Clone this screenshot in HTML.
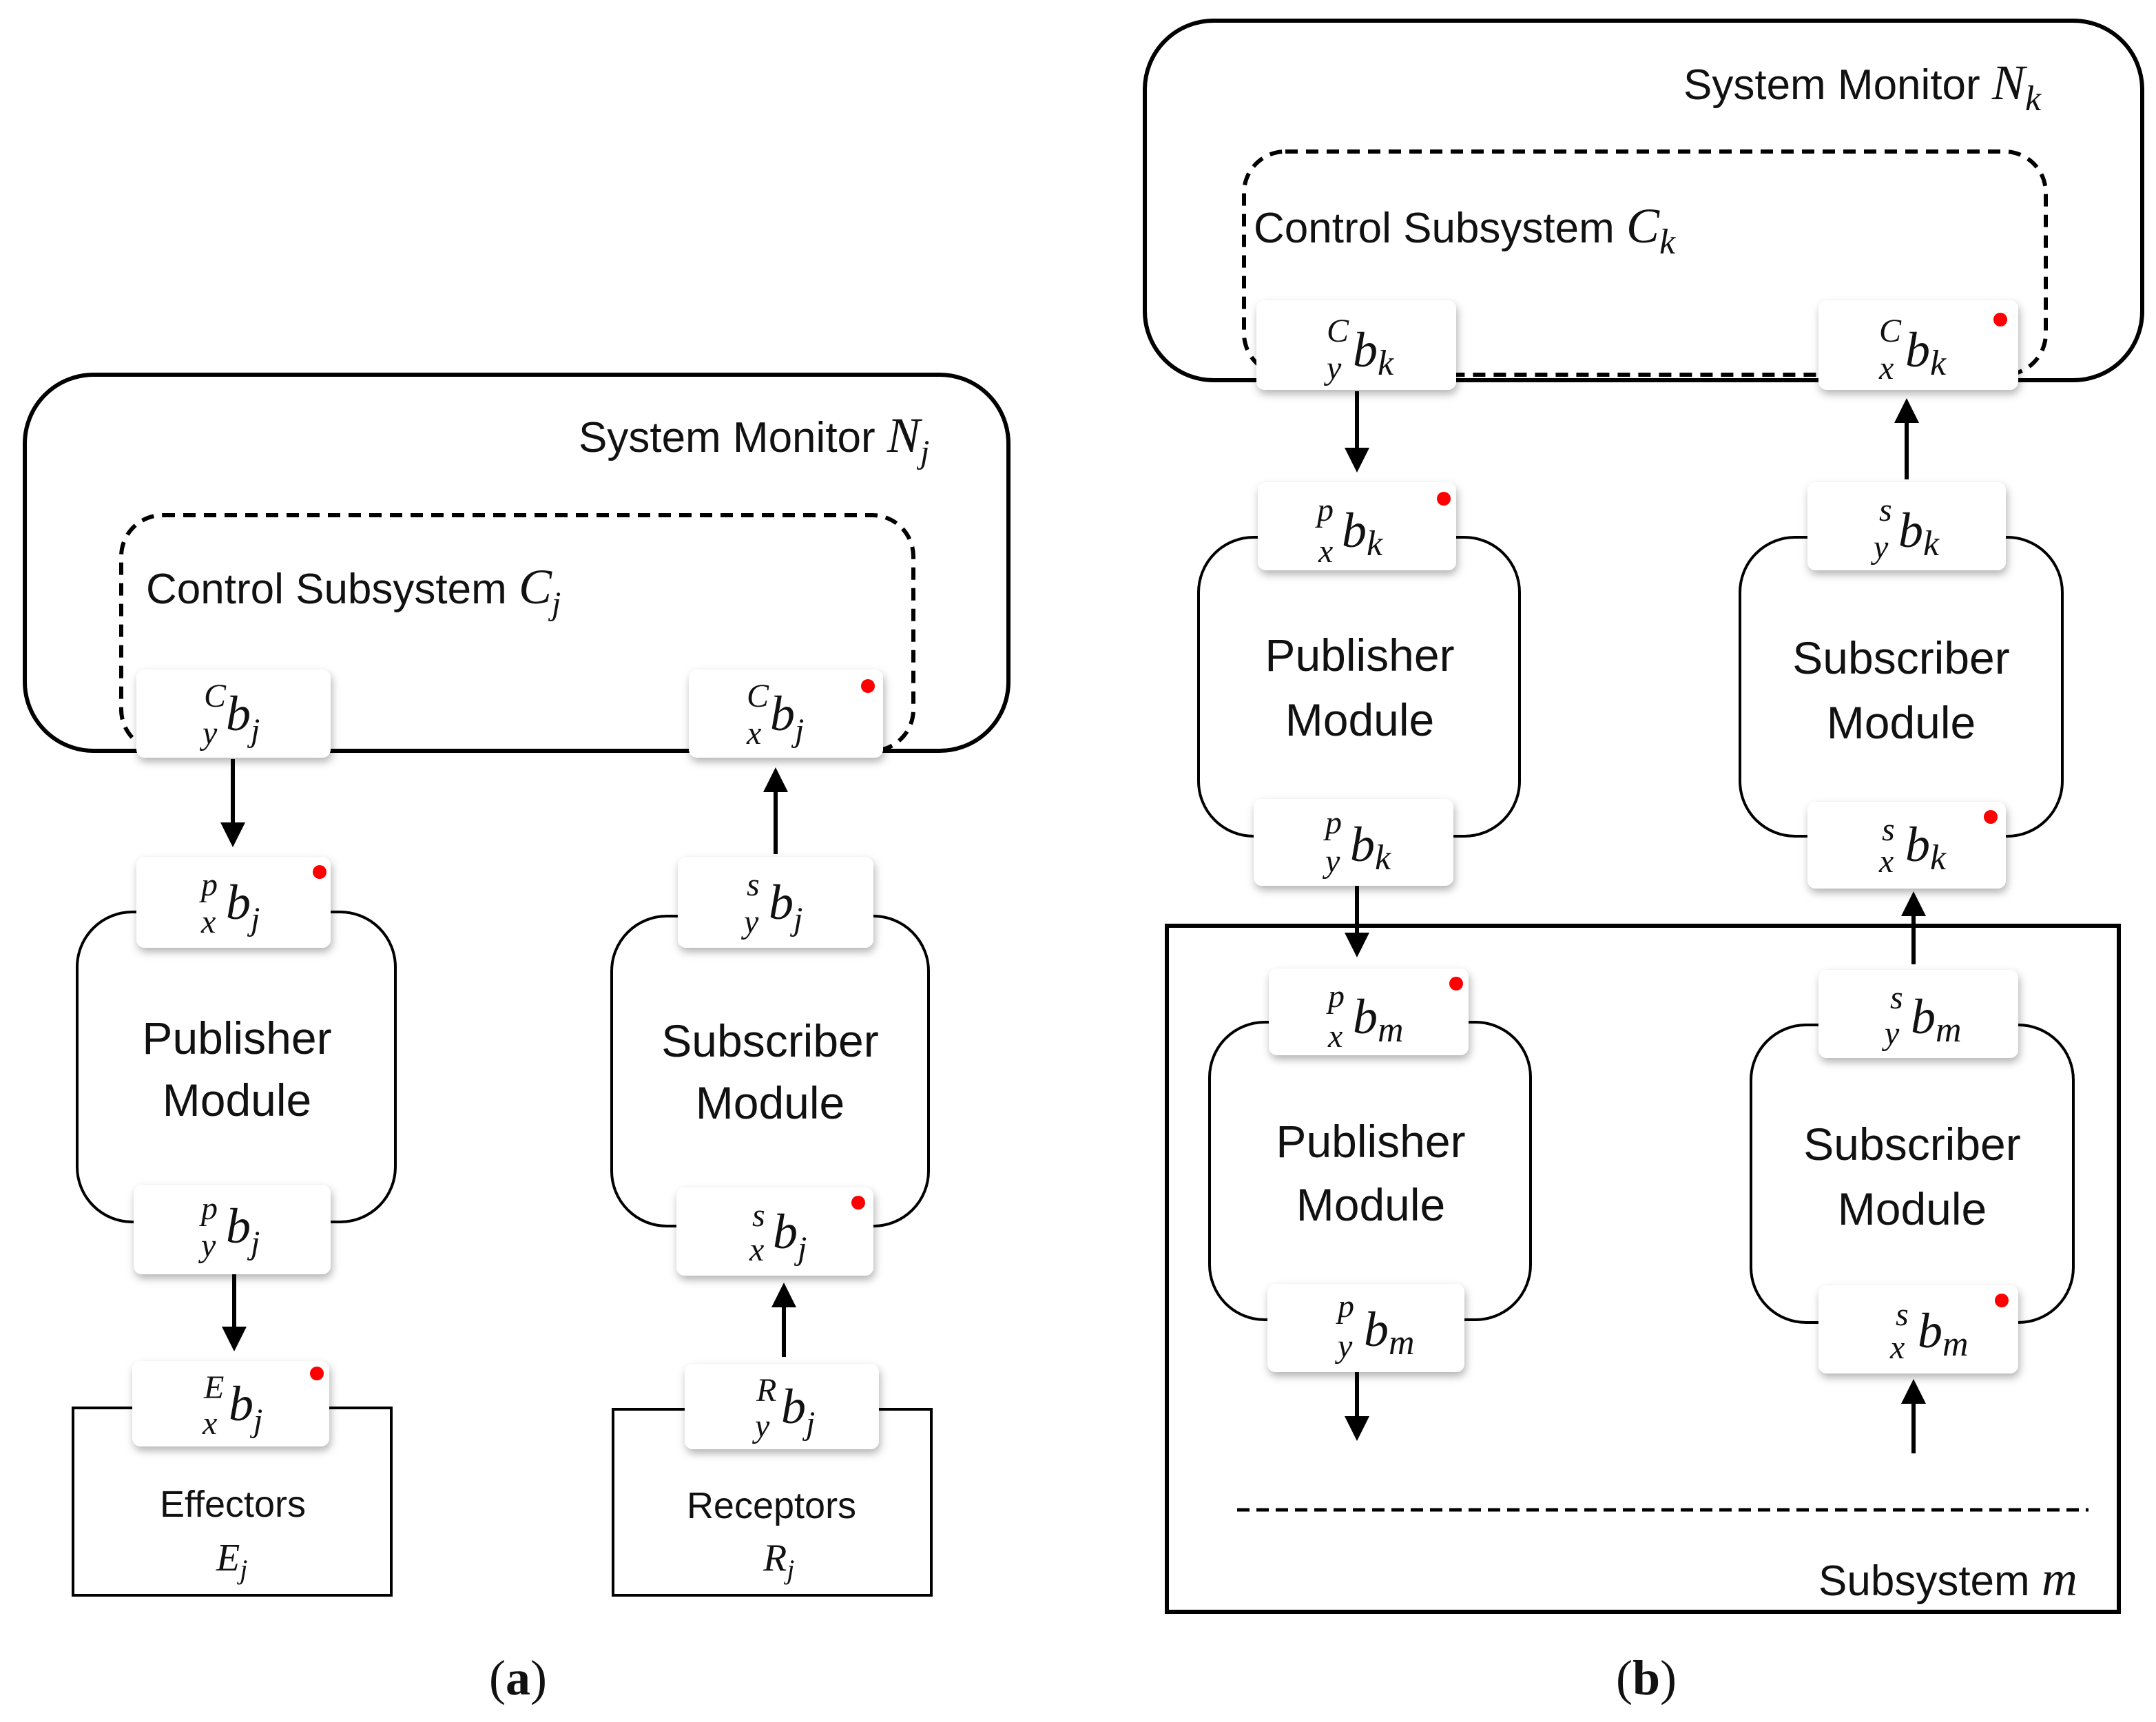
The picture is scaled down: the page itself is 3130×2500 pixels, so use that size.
<!DOCTYPE html>
<html><head><meta charset="utf-8"><style>
html,body{margin:0;padding:0;background:#fff}
svg{display:block}
text{font-family:"Liberation Sans",sans-serif;fill:#111}
.m,.m text,.m tspan,text.m{font-family:"Liberation Serif",serif;font-style:italic}
</style></head><body>
<svg width="3130" height="2500" viewBox="0 0 1565 1250" xmlns="http://www.w3.org/2000/svg">
<defs>
<filter id="sh" x="-20%" y="-20%" width="140%" height="150%"><feDropShadow dx="1" dy="3" stdDeviation="3" flood-color="#000" flood-opacity="0.3"/></filter>
<marker id="ah" markerWidth="6" markerHeight="6" refX="5" refY="3" orient="auto" markerUnits="strokeWidth"><path d="M0,0 L6,3 L0,6 z" fill="#000"/></marker>
</defs>
<g fill="none" stroke="#000">
<rect x="18" y="272" width="714" height="273" rx="50" stroke-width="3"/>
<rect x="88" y="374" width="575" height="171" rx="30" stroke-width="3" stroke-dasharray="9,6"/>
<rect x="56" y="662" width="231" height="225" rx="40" stroke-width="2"/>
<rect x="444" y="665" width="230" height="225" rx="40" stroke-width="2"/>
<rect x="53" y="1022" width="231" height="136" stroke-width="2"/>
<rect x="445" y="1023" width="231" height="135" stroke-width="2"/>
<rect x="831" y="15" width="724" height="261" rx="50" stroke-width="3"/>
<rect x="903" y="110" width="582" height="162" rx="30" stroke-width="3" stroke-dasharray="9,6"/>
<rect x="870" y="390" width="233" height="217" rx="40" stroke-width="2"/>
<rect x="1263" y="390" width="234" height="217" rx="40" stroke-width="2"/>
<rect x="847" y="672" width="691" height="498" stroke-width="3"/>
<rect x="878" y="742" width="233" height="216" rx="40" stroke-width="2"/>
<rect x="1271" y="744" width="234" height="216" rx="40" stroke-width="2"/>
<line x1="898" y1="1096" x2="1516" y2="1096" stroke-width="2.5" stroke-dasharray="9,5"/>
<g stroke-width="3" marker-end="url(#ah)">
<line x1="169" y1="551" x2="169" y2="612"/>
<line x1="170" y1="925" x2="170" y2="978"/>
<line x1="563" y1="620" x2="563" y2="560"/>
<line x1="569" y1="985" x2="569" y2="934"/>
<line x1="985" y1="284" x2="985" y2="340"/>
<line x1="985" y1="643" x2="985" y2="692"/>
<line x1="1384" y1="348" x2="1384" y2="292"/>
<line x1="1389" y1="700" x2="1389" y2="650"/>
<line x1="985" y1="996" x2="985" y2="1043"/>
<line x1="1389" y1="1055" x2="1389" y2="1004"/>
</g>
</g>
<g fill="#fff" filter="url(#sh)">
<rect x="99" y="486" width="141" height="64" rx="6"/>
<rect x="500" y="486" width="141" height="64" rx="6"/>
<rect x="99" y="622" width="141" height="66" rx="6"/>
<rect x="97" y="860" width="143" height="65" rx="6"/>
<rect x="96" y="988" width="143" height="62" rx="6"/>
<rect x="492" y="622" width="142" height="66" rx="6"/>
<rect x="491" y="862" width="143" height="64" rx="6"/>
<rect x="497" y="990" width="141" height="62" rx="6"/>
<rect x="912" y="218" width="145" height="65" rx="6"/>
<rect x="1320" y="218" width="145" height="65" rx="6"/>
<rect x="913" y="350" width="144" height="64" rx="6"/>
<rect x="910" y="580" width="145" height="63" rx="6"/>
<rect x="1312" y="350" width="144" height="64" rx="6"/>
<rect x="1312" y="582" width="144" height="63" rx="6"/>
<rect x="921" y="703" width="145" height="63" rx="6"/>
<rect x="920" y="932" width="143" height="64" rx="6"/>
<rect x="1320" y="704" width="145" height="64" rx="6"/>
<rect x="1320" y="933" width="145" height="64" rx="6"/>
</g>
<g fill="#f00">
<circle cx="630" cy="498" r="5"/><circle cx="232" cy="633" r="5"/><circle cx="623" cy="873" r="5"/><circle cx="230" cy="997" r="5"/>
<circle cx="1452" cy="232" r="5"/><circle cx="1048" cy="362" r="5"/><circle cx="1445" cy="593" r="5"/><circle cx="1057" cy="714" r="5"/><circle cx="1453" cy="944" r="5"/>
</g>
<g class="m">
<g font-size="24">
<text x="148" y="513">C</text><text x="147" y="540">y</text>
<text x="542" y="513">C</text><text x="542" y="540">x</text>
<text x="146" y="650">p</text><text x="146" y="677">x</text>
<text x="146" y="885">p</text><text x="146" y="912">y</text>
<text x="148" y="1015">E</text><text x="147" y="1041">x</text>
<text x="542" y="650">s</text><text x="540" y="677">y</text>
<text x="546" y="890">s</text><text x="544" y="915">x</text>
<text x="549" y="1017">R</text><text x="548" y="1043">y</text>
<text x="963" y="248">C</text><text x="963" y="275">y</text>
<text x="1364" y="248">C</text><text x="1364" y="275">x</text>
<text x="956" y="378">p</text><text x="957" y="408">x</text>
<text x="962" y="605">p</text><text x="962" y="633">y</text>
<text x="1364" y="378">s</text><text x="1360" y="405">y</text>
<text x="1366" y="610">s</text><text x="1364" y="633">x</text>
<text x="964" y="731">p</text><text x="964" y="760">x</text>
<text x="971" y="956">p</text><text x="971" y="985">y</text>
<text x="1372" y="732">s</text><text x="1368" y="758">y</text>
<text x="1376" y="962">s</text><text x="1372" y="986">x</text>
</g>
<g font-size="36">
<text x="164" y="530">b<tspan font-size="24" dy="8">j</tspan></text>
<text x="559" y="530">b<tspan font-size="24" dy="8">j</tspan></text>
<text x="164" y="667">b<tspan font-size="24" dy="8">j</tspan></text>
<text x="164" y="902">b<tspan font-size="24" dy="8">j</tspan></text>
<text x="166" y="1031">b<tspan font-size="24" dy="8">j</tspan></text>
<text x="558" y="667">b<tspan font-size="24" dy="8">j</tspan></text>
<text x="561" y="906">b<tspan font-size="24" dy="8">j</tspan></text>
<text x="567" y="1033">b<tspan font-size="24" dy="8">j</tspan></text>
<text x="982" y="266">b<tspan font-size="26" dy="6">k</tspan></text>
<text x="1383" y="266">b<tspan font-size="26" dy="6">k</tspan></text>
<text x="974" y="397">b<tspan font-size="26" dy="6">k</tspan></text>
<text x="980" y="625">b<tspan font-size="26" dy="6">k</tspan></text>
<text x="1378" y="397">b<tspan font-size="26" dy="6">k</tspan></text>
<text x="1383" y="625">b<tspan font-size="26" dy="6">k</tspan></text>
<text x="982" y="750">b<tspan font-size="26" dy="6">m</tspan></text>
<text x="990" y="977">b<tspan font-size="26" dy="6">m</tspan></text>
<text x="1387" y="750">b<tspan font-size="26" dy="6">m</tspan></text>
<text x="1392" y="978">b<tspan font-size="26" dy="6">m</tspan></text>
</g>
</g>
<g font-size="31">
<text x="420" y="328">System Monitor <tspan class="m" font-size="36">N</tspan><tspan class="m" font-size="24" dy="8">j</tspan></text>
<text x="106" y="438">Control Subsystem <tspan class="m" font-size="36">C</tspan><tspan class="m" font-size="24" dy="8">j</tspan></text>
<text x="1222" y="72">System Monitor <tspan class="m" font-size="36">N</tspan><tspan class="m" font-size="26" dy="8">k</tspan></text>
<text x="910" y="176">Control Subsystem <tspan class="m" font-size="36">C</tspan><tspan class="m" font-size="26" dy="8">k</tspan></text>
</g>
<g font-size="33" text-anchor="middle">
<text x="172" y="765">Publisher</text><text x="172" y="810">Module</text>
<text x="559" y="767">Subscriber</text><text x="559" y="812">Module</text>
<text x="987" y="487">Publisher</text><text x="987" y="534">Module</text>
<text x="1380" y="489">Subscriber</text><text x="1380" y="536">Module</text>
<text x="995" y="840">Publisher</text><text x="995" y="886">Module</text>
<text x="1388" y="842">Subscriber</text><text x="1388" y="889">Module</text>
</g>
<g font-size="27" text-anchor="middle">
<text x="169" y="1101">Effectors</text>
<text x="560" y="1102">Receptors</text>
</g>
<text class="m" x="157" y="1140" font-size="28">E<tspan font-size="20" dy="6">j</tspan></text>
<text class="m" x="554" y="1140" font-size="28">R<tspan font-size="20" dy="6">j</tspan></text>
<text x="1320" y="1158" font-size="31">Subsystem <tspan class="m" font-size="36">m</tspan></text>
<g font-size="36" text-anchor="middle">
<text x="376" y="1230" style="font-family:'Liberation Serif',serif">(<tspan font-weight="bold">a</tspan>)</text>
<text x="1195" y="1230" style="font-family:'Liberation Serif',serif">(<tspan font-weight="bold">b</tspan>)</text>
</g>
</svg>
</body></html>
